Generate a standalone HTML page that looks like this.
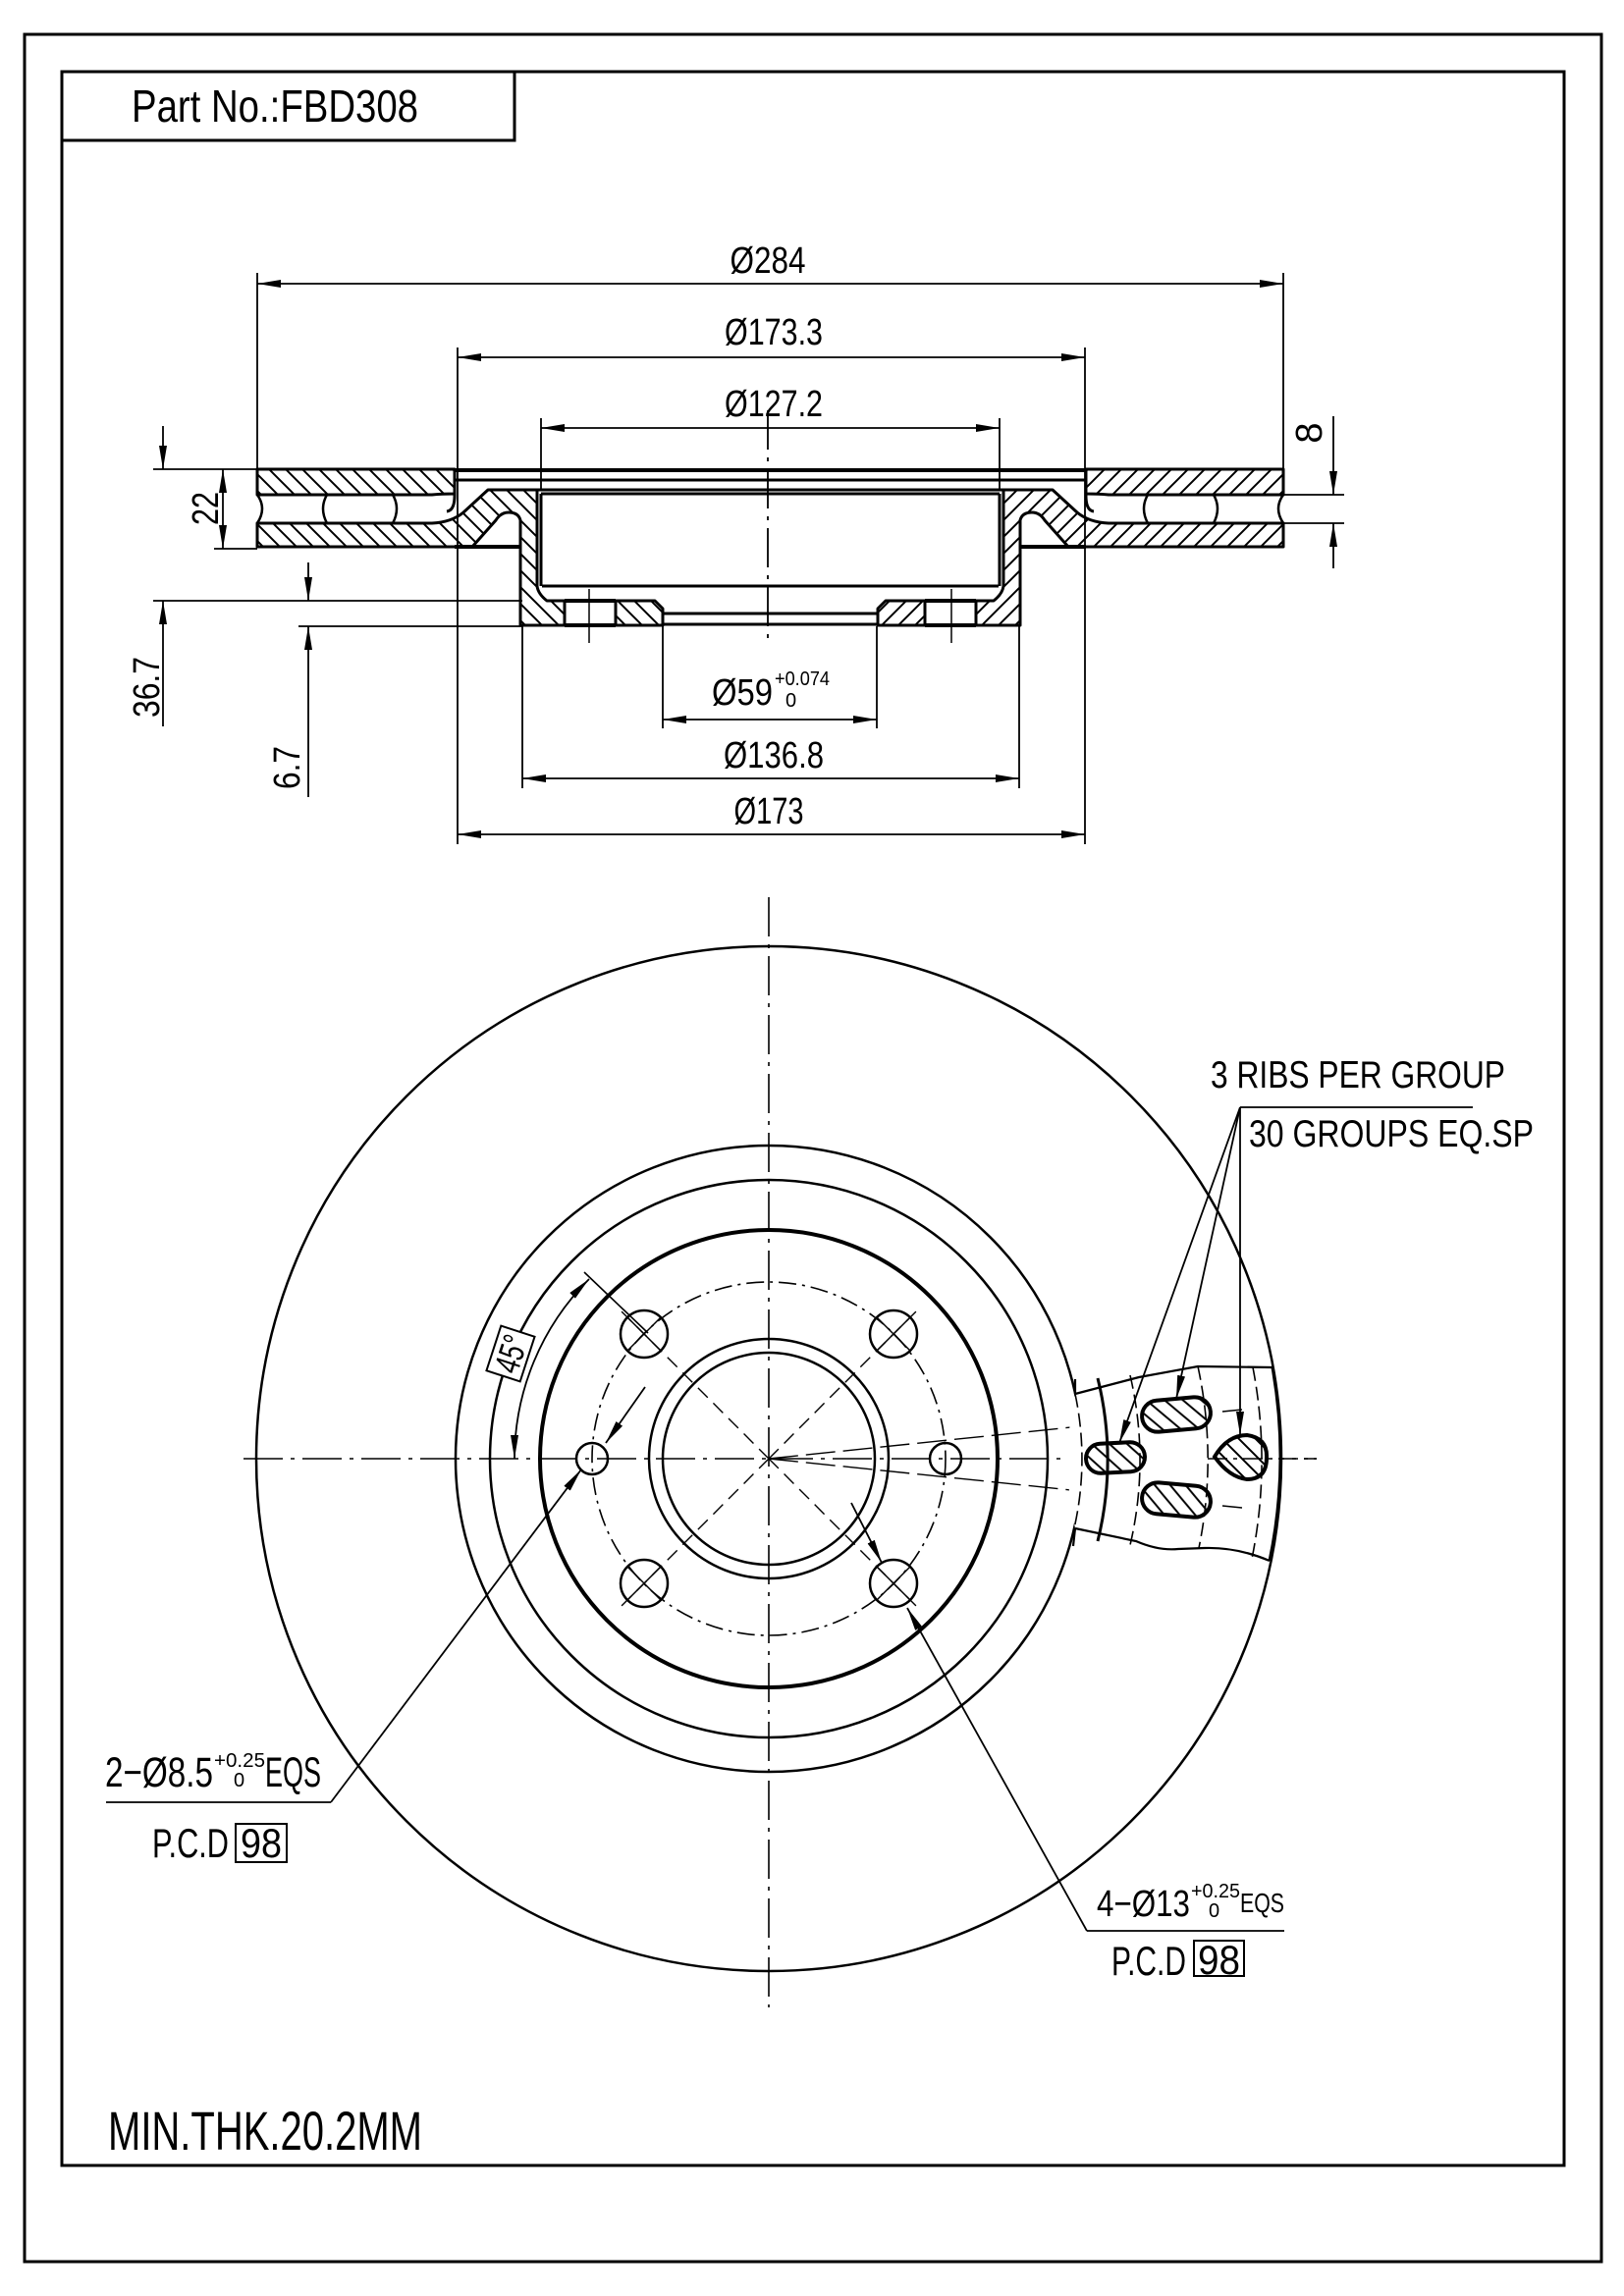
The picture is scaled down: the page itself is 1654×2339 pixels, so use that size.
<!DOCTYPE html>
<html><head><meta charset="utf-8"><style>
html,body{margin:0;padding:0;background:#fff}
svg{display:block}
text{font-family:"Liberation Sans",sans-serif;fill:#000}
</style></head><body>
<svg width="1654" height="2339" viewBox="0 0 1654 2339" xmlns="http://www.w3.org/2000/svg">
<defs>
<pattern id="h" patternUnits="userSpaceOnUse" width="17" height="17">
<path d="M-3 -3 L20 20 M-3 14 L3 20 M14 -3 L20 3" stroke="#000" stroke-width="2"/>
</pattern>
<marker id="a" markerUnits="userSpaceOnUse" markerWidth="24" markerHeight="8" refX="24" refY="4" orient="auto-start-reverse">
<path d="M0 0 L24 4 L0 8 z" fill="#000"/>
</marker>
</defs>
<rect x="0" y="0" width="1654" height="2339" fill="#fff"/>
<!-- borders -->
<rect x="25" y="35" width="1606" height="2269" fill="none" stroke="#000" stroke-width="3"/>
<rect x="63" y="73" width="1530" height="2133" fill="none" stroke="#000" stroke-width="3"/>
<path d="M63 143 H524 V73" fill="none" stroke="#000" stroke-width="3"/>
<text x="134" y="124" font-size="46" textLength="292" lengthAdjust="spacingAndGlyphs">Part No.:FBD308</text>

<!-- ===== SECTION VIEW ===== -->
<g stroke="#000" fill="none" stroke-width="1.8">
<!-- dims top -->
<path d="M262 289 H1307" marker-start="url(#a)" marker-end="url(#a)"/>
<path d="M466 364 H1105" marker-start="url(#a)" marker-end="url(#a)"/>
<path d="M551 436 H1018" marker-start="url(#a)" marker-end="url(#a)"/>
<path d="M675 733 H893" marker-start="url(#a)" marker-end="url(#a)"/>
<path d="M532 793 H1038" marker-start="url(#a)" marker-end="url(#a)"/>
<path d="M466 850 H1105" marker-start="url(#a)" marker-end="url(#a)"/>
<path d="M262 278 V478 M1307 278 V478 M466 354 V860 M1105 354 V860 M551 426 V500 M1018 426 V500 M675 638 V742 M893 638 V742 M532 638 V803 M1038 638 V803"/>
<path d="M782 418 V650" stroke-dasharray="40 8 4 8"/>
<!-- left dims -->
<path d="M156 478 H262 M218 559 H262 M156 612 H532 M304 638 H532"/>
<path d="M227 478 V559" marker-start="url(#a)" marker-end="url(#a)"/>
<path d="M166 434 V478" marker-end="url(#a)"/>
<path d="M166 740 V612" marker-end="url(#a)"/>
<path d="M314 573 V612" marker-end="url(#a)"/>
<path d="M314 812 V638" marker-end="url(#a)"/>
<!-- right dim 8 -->
<path d="M1307 504 H1369 M1307 533 H1369"/>
<path d="M1358 424 V504" marker-end="url(#a)"/>
<path d="M1358 579 V533" marker-end="url(#a)"/>
</g>
<text x="782" y="278" font-size="38" text-anchor="middle" textLength="77" lengthAdjust="spacingAndGlyphs">Ø284</text>
<text x="788" y="351" font-size="38" text-anchor="middle" textLength="100" lengthAdjust="spacingAndGlyphs">Ø173.3</text>
<text x="788" y="424" font-size="38" text-anchor="middle" textLength="100" lengthAdjust="spacingAndGlyphs">Ø127.2</text>
<text x="725" y="718" font-size="38" textLength="62" lengthAdjust="spacingAndGlyphs">Ø59</text>
<text x="789" y="698" font-size="20" textLength="56" lengthAdjust="spacingAndGlyphs">+0.074</text>
<text x="800" y="720" font-size="20">0</text>
<text x="788" y="782" font-size="38" text-anchor="middle" textLength="102" lengthAdjust="spacingAndGlyphs">Ø136.8</text>
<text x="783" y="839" font-size="38" text-anchor="middle" textLength="71" lengthAdjust="spacingAndGlyphs">Ø173</text>
<text transform="translate(222 518) rotate(-90)" font-size="38" text-anchor="middle" textLength="34" lengthAdjust="spacingAndGlyphs">22</text>
<text transform="translate(162 700) rotate(-90)" font-size="38" text-anchor="middle" textLength="62" lengthAdjust="spacingAndGlyphs">36.7</text>
<text transform="translate(305 782) rotate(-90)" font-size="38" text-anchor="middle" textLength="44" lengthAdjust="spacingAndGlyphs">6.7</text>
<text transform="translate(1346 441) rotate(-90)" font-size="38" text-anchor="middle">8</text>

<!-- section body (left half, mirrored for right) -->
<g id="half" stroke="#000" stroke-width="3" stroke-linejoin="round">
<path d="M262 478 H463 V503 Q450 503 440 504 H262 Z" fill="url(#h)"/>
<path d="M463 478 V505 Q463 520 455 521" fill="none"/>
<path d="M262 533 H440 Q460 532 472 522 L497 499 H547 V597 Q548 605 557 612 H575 V637 H530 V530 Q528 522 518 522 Q510 522 505 530 L481 557 H262 Z" fill="url(#h)"/>
<path d="M627 612 H667 L675 620 V637 H627 Z" fill="url(#h)"/>
<path d="M575 612 H627 M575 637 H627" fill="none" stroke-width="4"/>
<path d="M463 557 H530" fill="none" stroke-width="4"/>
<path d="M262 504 Q272 518 262 533 M333 504 Q325 518 333 533 M400 504 Q408 518 400 533 M333 504 H400 M333 533 H400" fill="none" stroke-width="2.5"/>
<path d="M600 600 V655" fill="none" stroke-width="1.5"/>
</g>
<use href="#half" transform="translate(1569 0) scale(-1 1)"/>
<g stroke="#000" fill="none">
<path d="M463 479 H1106" stroke-width="4"/>
<path d="M463 489 H1106 M497 499 H1072 M551 503 H1018" stroke-width="3"/>
<path d="M552 597 H1017" stroke-width="3"/>
<path d="M675 625 H894 M675 636 H894" stroke-width="3"/>
<path d="M551 503 V597 M1018 503 V597" stroke-width="3"/>
</g>

<!-- ===== FRONT VIEW ===== -->
<g stroke="#000" fill="none">
<circle cx="783" cy="1486" r="522" stroke-width="2.5"/>
<circle cx="783" cy="1486" r="319" stroke-width="2.5"/>
<circle cx="783" cy="1486" r="284" stroke-width="2.5"/>
<circle cx="783" cy="1486" r="233" stroke-width="4"/>
<circle cx="783" cy="1486" r="180" stroke-width="1.6" stroke-dasharray="18 6 3 6"/>
<circle cx="783" cy="1486" r="122" stroke-width="2.5"/>
<circle cx="783" cy="1486" r="108" stroke-width="2.5"/>
<!-- bolt holes -->
<g stroke-width="2.5">
<circle cx="656" cy="1359" r="24"/><circle cx="910" cy="1359" r="24"/>
<circle cx="656" cy="1613" r="24"/><circle cx="910" cy="1613" r="24"/>
<circle cx="603" cy="1486" r="16"/><circle cx="963" cy="1486" r="16"/>
</g>
<path d="M639 1342 L673 1376 M639 1376 L673 1342 M893 1342 L927 1376 M893 1376 L927 1342 M639 1596 L673 1630 M639 1630 L673 1596 M893 1596 L927 1630 M893 1630 L927 1596" stroke-width="1.5"/>
<!-- center lines -->
<path d="M248 1486 H1341 M783 914 V2045" stroke-width="1.6" stroke-dasharray="40 8 4 8"/>
<path d="M783 1486 L630 1333 M783 1486 L936 1333 M783 1486 L630 1639 M783 1486 L936 1639" stroke-width="1.4" stroke-dasharray="14 8"/>
<path d="M783 1486 L1245 1438 M783 1486 L1245 1534" stroke-width="1.4" stroke-dasharray="30 8"/>
<path d="M595 1296 L660 1358" stroke-width="1.6"/>
<!-- 45 deg -->
<path d="M524 1486 A259 259 0 0 1 600 1303" stroke-width="1.8" marker-start="url(#a)" marker-end="url(#a)"/>
</g>
<g transform="translate(520 1379) rotate(-72)">
<rect x="-24" y="-18" width="48" height="36" fill="#fff" stroke="#000" stroke-width="2"/>
<text x="0" y="13" font-size="36" text-anchor="middle" textLength="38" lengthAdjust="spacingAndGlyphs">45°</text>
</g>

<!-- rib region -->
<path d="M1095 1420 L1160 1403 L1220 1392 L1296 1393 A522 522 0 0 1 1293 1590 L1260 1578 L1227 1577 L1187 1578 L1157 1570 L1095 1557 A319 319 0 0 1 1095 1420 Z" fill="#fff" stroke="none"/>
<g stroke="#000" fill="none" stroke-width="2.2">
<path d="M1095 1420 L1160 1403 L1220 1392 L1296 1393"/>
<path d="M1095 1557 L1157 1570 Q1180 1580 1200 1578 L1227 1577 Q1260 1576 1293 1590"/>
<path d="M1095 1420 L1095 1405 M1095 1557 L1093 1575"/>
<path d="M1118 1404 A345 345 0 0 1 1118 1570" stroke-width="3"/>
<path d="M1095 1420 A319 319 0 0 1 1094 1557" stroke-width="1.6" stroke-dasharray="14 6"/>
<path d="M1151 1401 A378 378 0 0 1 1151 1574" stroke-width="1.6" stroke-dasharray="14 6"/>
<path d="M1220 1392 A447 447 0 0 1 1221 1577" stroke-width="1.6" stroke-dasharray="14 6"/>
<path d="M1276 1393 A502 502 0 0 1 1275 1588" stroke-width="1.6" stroke-dasharray="14 6"/>
<path d="M1296 1393 A522 522 0 0 1 1293 1590" stroke-width="3"/>
<path d="M1245 1438 L1265 1436 M1245 1534 L1265 1536" stroke-width="1.4"/>
<path d="M1230 1486 H1341" stroke-width="1.6" stroke-dasharray="20 6 4 6"/>
</g>
<g stroke="#000" stroke-width="4" fill="url(#h)">
<rect x="1163" y="1425" width="70" height="32" rx="16" transform="rotate(-5 1198 1441)"/>
<rect x="1163" y="1512" width="70" height="32" rx="16" transform="rotate(5 1198 1528)"/>
<rect x="1106" y="1470" width="60" height="30" rx="15" transform="rotate(-3 1136 1485)"/>
<path d="M1237 1484 Q1250 1462 1270 1462 Q1291 1465 1290 1485 Q1290 1507 1270 1507 Q1252 1505 1237 1484 Z"/>
</g>
<!-- rib leaders -->
<g stroke="#000" fill="none" stroke-width="1.8">
<path d="M1263 1128 H1500"/>
<path d="M1263 1128 L1140 1470" marker-end="url(#a)"/>
<path d="M1263 1128 L1198 1425" marker-end="url(#a)"/>
<path d="M1263 1128 L1263 1462" marker-end="url(#a)"/>
</g>
<text x="1233" y="1108" font-size="39" textLength="300" lengthAdjust="spacingAndGlyphs">3 RIBS PER GROUP</text>
<text x="1272" y="1168" font-size="39" textLength="290" lengthAdjust="spacingAndGlyphs">30 GROUPS EQ.SP</text>

<!-- 2-ø8.5 leader -->
<g stroke="#000" fill="none" stroke-width="1.8">
<path d="M108 1836 H337"/>
<path d="M337 1836 L592 1497" marker-end="url(#a)"/>
<path d="M657 1413 L617 1470" marker-end="url(#a)"/>
<rect x="240" y="1858" width="52" height="39" stroke-width="2"/>
</g>
<text x="107" y="1820" font-size="43" textLength="110" lengthAdjust="spacingAndGlyphs">2−Ø8.5</text>
<text x="218" y="1800" font-size="20" textLength="52" lengthAdjust="spacingAndGlyphs">+0.25</text>
<text x="238" y="1820" font-size="20">0</text>
<text x="270" y="1820" font-size="43" textLength="57" lengthAdjust="spacingAndGlyphs">EQS</text>
<text x="155" y="1892" font-size="42" textLength="78" lengthAdjust="spacingAndGlyphs">P.C.D</text>
<text x="245" y="1892" font-size="42" textLength="42" lengthAdjust="spacingAndGlyphs">98</text>

<!-- 4-ø13 leader -->
<g stroke="#000" fill="none" stroke-width="1.8">
<path d="M1107 1967 H1308"/>
<path d="M867 1531 L898 1592" marker-end="url(#a)"/>
<path d="M1107 1967 L924 1638" marker-end="url(#a)"/>
<rect x="1216" y="1977" width="51" height="36" stroke-width="2"/>
</g>
<text x="1117" y="1952" font-size="38" textLength="95" lengthAdjust="spacingAndGlyphs">4−Ø13</text>
<text x="1213" y="1933" font-size="20" textLength="50" lengthAdjust="spacingAndGlyphs">+0.25</text>
<text x="1231" y="1953" font-size="20">0</text>
<text x="1263" y="1948" font-size="28" textLength="45" lengthAdjust="spacingAndGlyphs">EQS</text>
<text x="1132" y="2012" font-size="42" textLength="76" lengthAdjust="spacingAndGlyphs">P.C.D</text>
<text x="1220" y="2011" font-size="42" textLength="43" lengthAdjust="spacingAndGlyphs">98</text>

<text x="110" y="2190" font-size="56" textLength="320" lengthAdjust="spacingAndGlyphs">MIN.THK.20.2MM</text>
</svg>
</body></html>
